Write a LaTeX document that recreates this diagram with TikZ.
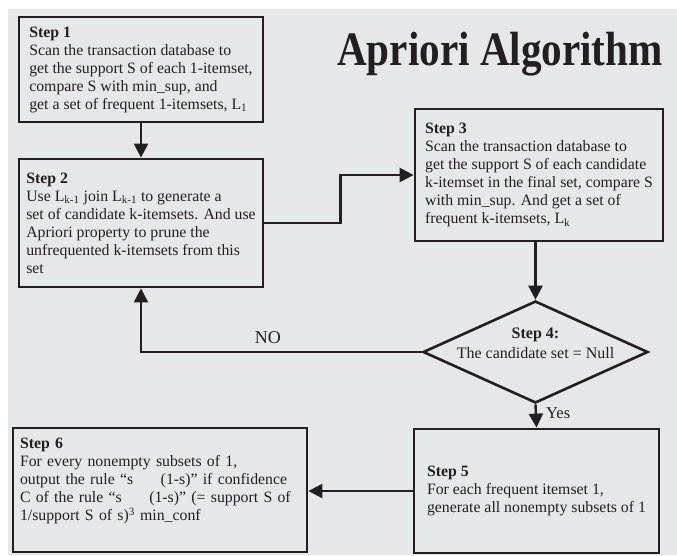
\documentclass[tikz,border=0pt]{standalone}
\usepackage{fontspec}
\setmainfont{Liberation Serif}
\usepackage{graphicx}
\usetikzlibrary{arrows.meta,shapes.geometric}
\definecolor{bggray}{HTML}{E6E7E8}
\definecolor{ink}{HTML}{231F20}

\begin{document}
\begin{tikzpicture}[x=1pt,y=-1pt,
    stepbox/.style={draw=ink,line width=2.8pt,rectangle,align=left,text=ink,
      font=\fontsize{15.8}{18}\selectfont,inner sep=0pt},
    decision/.style={draw=ink,line width=2.6pt,diamond,aspect=2.2,align=center,
      text=ink,font=\fontsize{16}{20}\selectfont,inner xsep=-60pt,inner ysep=0pt,
      minimum width=225pt,minimum height=102pt},
    flow/.style={draw=ink,line width=2.4pt,-{Triangle[length=14pt,width=14pt]}},
    tag/.style={text=ink,inner sep=3pt}]
  \useasboundingbox (0,0) rectangle (677,555);
  \fill[bggray] (8,9) rectangle (677,555);

  \node[text=ink,anchor=base,font=\bfseries\fontsize{48}{50}\selectfont] (title)
    at (500,65) {\scalebox{0.857}[1]{Apriori Algorithm}};

  % the six steps
  \node[stepbox,minimum width=244pt,minimum height=105pt] (s1) at (141,69.5)
    {\textbf{Step 1}\\Scan the transaction database to\\get the support S of each 1-itemset,\\
     compare S with min\_sup, and\\get a set of frequent 1-itemsets, L\textsubscript{1}};
  \node[stepbox,minimum width=244pt,minimum height=128pt] (s2) at (141,223)
    {\textbf{Step 2}\\Use L\textsubscript{k-1} join L\textsubscript{k-1} to generate a\\
     set of candidate k-itemsets. And use\\Apriori property to prune the\\
     unfrequented k-itemsets from this\\set};
  \node[stepbox,minimum width=248pt,minimum height=132pt] (s3) at (539,175)
    {\textbf{Step 3}\\Scan the transaction database to\\get the support S of each candidate\\
     k-itemset in the final set, compare S\\with min\_sup. And get a set of\\
     frequent k-itemsets, L\textsubscript{k}};
  \node[decision] (s4) at (535.5,352)
    {\textbf{Step 4:}\\The candidate set = Null\\[-2pt]\mbox{}};
  \node[stepbox,minimum width=245pt,minimum height=124pt] (s5) at (536.5,491)
    {\textbf{Step 5}\\For each frequent itemset 1,\\generate all nonempty subsets of 1};
  \node[stepbox,text width=280pt,inner xsep=7pt,minimum height=124pt] (s6) at (160,490)
    {\textbf{Step 6}\\For every nonempty subsets of 1,\\
     output the rule ``s \hspace{17pt} (1-s)'' if confidence\\
     C of the rule ``s \hspace{17pt} (1-s)'' (= support S of\\
     1/support S of s)\textsuperscript{3} min\_conf\\[4pt]\mbox{}};

  \begin{scope}[flow]
    \draw (s1) -- (s2);
    \draw (s2.east) -- ++(76,0) |- (s3.west);
    \draw (s3.south -| s4.north) -- (s4.north);
    \draw (s4.west) -| node[tag,pos=0.274,above=4pt,font=\fontsize{18}{20}\selectfont] {NO} (s2.south);
    \draw (s4.south) -- node[tag,right=6pt,yshift=3pt,font=\fontsize{16.5}{18}\selectfont] {Yes} (s5.north);
    \draw (s5.west) -- (s5.west -| s6.east);
  \end{scope}
\end{tikzpicture}
\end{document}
